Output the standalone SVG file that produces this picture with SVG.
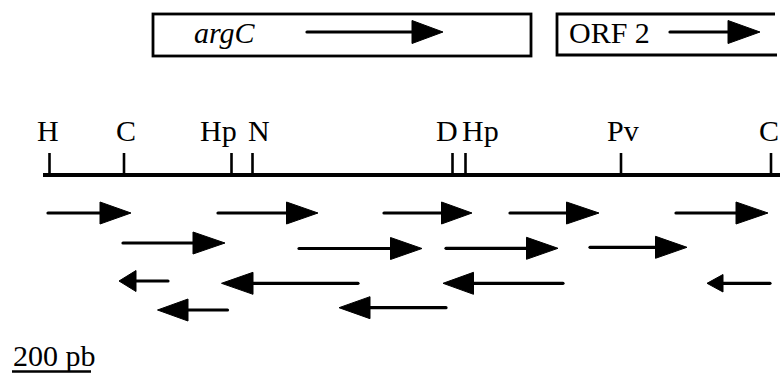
<svg xmlns="http://www.w3.org/2000/svg" width="780" height="374" viewBox="0 0 780 374">
  <style>
    .lbl { font-family: "Liberation Serif", "Times New Roman", Tinos, Times, "DejaVu Serif", serif; font-size: 30px; fill: #000; }
    .box { fill: none; stroke: #000; stroke-width: 2.8; }
    .shaft { stroke: #000; stroke-width: 3.2; stroke-linecap: round; fill: none; }
    .head { fill: #000; stroke: #000; stroke-width: 1; stroke-linejoin: round; }
    .tick { stroke: #000; stroke-width: 2.6; }
  </style>
  <rect width="780" height="374" fill="#fff"/>

  <!-- gene boxes -->
  <g id="gene-argC">
    <rect class="box" x="153" y="14" width="378" height="42"/>
    <text class="lbl" x="194" y="43" font-style="italic">argC</text>
    <line class="shaft" x1="307" y1="32" x2="414" y2="32"/>
    <polygon class="head" points="412,20.5 443,32 412,43.5"/>
  </g>
  <g id="gene-orf2">
    <polyline class="box" points="775,14 557,14 557,55 777,55"/>
    <text class="lbl" x="569" y="43">ORF 2</text>
    <line class="shaft" x1="670" y1="32" x2="730" y2="32"/>
    <polygon class="head" points="728,20.5 760,32 728,43.5"/>
  </g>

  <!-- restriction map -->
  <g id="restriction-map">
    <line x1="43" y1="175" x2="780" y2="175" stroke="#000" stroke-width="4.2"/>
    <line class="tick" x1="49.5" y1="153" x2="49.5" y2="175"/>
    <line class="tick" x1="124" y1="153" x2="124" y2="175"/>
    <line class="tick" x1="231.5" y1="153" x2="231.5" y2="175"/>
    <line class="tick" x1="252.5" y1="153" x2="252.5" y2="175"/>
    <line class="tick" x1="452.5" y1="153" x2="452.5" y2="175"/>
    <line class="tick" x1="465.5" y1="153" x2="465.5" y2="175"/>
    <line class="tick" x1="621" y1="153" x2="621" y2="175"/>
    <line class="tick" x1="771" y1="153" x2="771" y2="175"/>
    <text class="lbl" x="37" y="141">H</text>
    <text class="lbl" x="116" y="141">C</text>
    <text class="lbl" x="200" y="141">Hp</text>
    <text class="lbl" x="248" y="141">N</text>
    <text class="lbl" x="436" y="141">D</text>
    <text class="lbl" x="462" y="141">Hp</text>
    <text class="lbl" x="607" y="141">Pv</text>
    <text class="lbl" x="759" y="141">C</text>
  </g>

  <!-- sequencing reads -->
  <g id="reads">
    <!-- forward, row 1 -->
    <line class="shaft" x1="48" y1="213" x2="102" y2="213"/>
    <polygon class="head" points="100,202 131,213 100,224"/>
    <line class="shaft" x1="218" y1="213" x2="288" y2="213"/>
    <polygon class="head" points="286.5,202 318,213 286.5,224"/>
    <line class="shaft" x1="384" y1="213" x2="443" y2="213"/>
    <polygon class="head" points="441.5,202 472,213 441.5,224"/>
    <line class="shaft" x1="510" y1="213" x2="568" y2="213"/>
    <polygon class="head" points="566.5,202 599,213 566.5,224"/>
    <line class="shaft" x1="676" y1="213" x2="737" y2="213"/>
    <polygon class="head" points="736,202 768,213 736,224"/>
    <!-- forward, row 2 -->
    <line class="shaft" x1="123" y1="243" x2="195" y2="243"/>
    <polygon class="head" points="193,232 225,243 193,254"/>
    <line class="shaft" x1="299" y1="248.5" x2="392" y2="248.5"/>
    <polygon class="head" points="390.5,237.5 422,248.5 390.5,259.5"/>
    <line class="shaft" x1="446" y1="248.3" x2="528" y2="248.3"/>
    <polygon class="head" points="526.5,237.3 558,248.3 526.5,259.3"/>
    <line class="shaft" x1="590" y1="247.3" x2="657" y2="247.3"/>
    <polygon class="head" points="655.5,236.3 687,247.3 655.5,258.3"/>
    <!-- reverse, row 3 -->
    <line class="shaft" x1="168" y1="281" x2="134" y2="281"/>
    <polygon class="head" points="136,270.5 119,281 136,291.5"/>
    <line class="shaft" x1="358" y1="283.3" x2="251" y2="283.3"/>
    <polygon class="head" points="253,272.3 221.5,283.3 253,294.3"/>
    <line class="shaft" x1="563" y1="283.3" x2="472" y2="283.3"/>
    <polygon class="head" points="473.5,272.3 443,283.3 473.5,294.3"/>
    <line class="shaft" x1="770" y1="283.3" x2="721" y2="283.3"/>
    <polygon class="head" points="723,274.5 707,283.3 723,292"/>
    <!-- reverse, row 4 -->
    <line class="shaft" x1="227.5" y1="310" x2="186" y2="310"/>
    <polygon class="head" points="188,299 157.5,310 188,321"/>
    <line class="shaft" x1="446" y1="307.7" x2="368" y2="307.7"/>
    <polygon class="head" points="370,296.7 339,307.7 370,318.7"/>
  </g>

  <!-- scale bar -->
  <g id="scale">
    <text class="lbl" x="13" y="366" font-size="26">200 pb</text>
    <line x1="12" y1="371.5" x2="91" y2="371.5" stroke="#000" stroke-width="2.6"/>
  </g>
</svg>
